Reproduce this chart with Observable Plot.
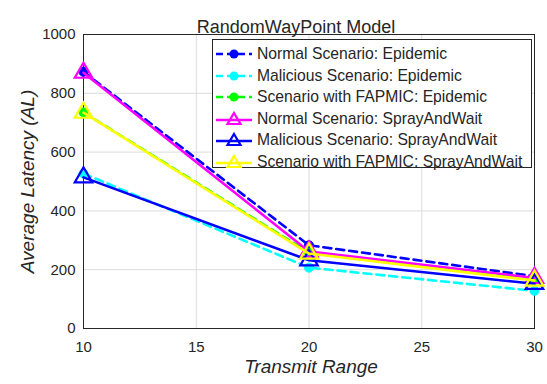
<!DOCTYPE html>
<html>
<head>
<meta charset="utf-8">
<script src="https://cdn.jsdelivr.net/npm/d3@7"></script>
<script src="https://cdn.jsdelivr.net/npm/@observablehq/plot@0.6"></script>
<style>
  html, body { margin: 0; padding: 0; background: #fff; }
  #wrap { position: relative; width: 547px; height: 384px; font-family: "Liberation Sans", Arial, sans-serif; }
  #legend { position: absolute; left: 212px; top: 39px; width: 320px; height: 129px; border: 1px solid #262626; background: #fff; box-sizing: border-box; }
  .row { position: absolute; left: 0; height: 20px; display: flex; align-items: center; font-size: 15.7px; color: #262626; white-space: nowrap; }
  .row svg { margin-left: 2px; margin-right: 4px; }
</style>
</head>
<body>
<div id="wrap"></div>
<script>
const transmitRange = [10, 20, 30];
const seriesNames = [
  "Normal Scenario: Epidemic",
  "Malicious Scenario: Epidemic",
  "Scenario with FAPMIC: Epidemic",
  "Normal Scenario: SprayAndWait",
  "Malicious Scenario: SprayAndWait",
  "Scenario with FAPMIC: SprayAndWait"
];
const normalEpidemic = [873, 283, 178];
const maliciousEpidemic = [527, 207, 128];
const fapmicEpidemic = [735, 258, 165];
const normalSpray = [870, 262, 172];
const maliciousSpray = [514, 232, 152];
const fapmicSpray = [734, 255, 163];
const seriesColors = ["#0000ff", "#00ffff", "#00ff00", "#ff00ff", "#0000ff", "#ffff00"];
const seriesDashed = [true, true, true, false, false, false];
const yTicks = [0, 200, 400, 600, 800, 1000];
const xTicks = [10, 15, 20, 25, 30];
const title = "RandomWayPoint Model";
const xLabel = "Transmit Range";
const yLabel = "Average Latency (AL)";

const allValues = [normalEpidemic, maliciousEpidemic, fapmicEpidemic, normalSpray, maliciousSpray, fapmicSpray];
const data = [];
allValues.forEach((vals, i) => vals.forEach((v, j) => data.push({series: seriesNames[i], idx: i, x: transmitRange[j], y: v})));

const marks = [
  Plot.gridX(xTicks, {stroke: "#dcdcdc", strokeOpacity: 1}),
  Plot.gridY(yTicks, {stroke: "#dcdcdc", strokeOpacity: 1}),
  Plot.axisX(xTicks, {tickSize: 0, tickPadding: 13, fontSize: 15, fill: "#262626", label: null, tickFormat: d => String(d)}),
  Plot.axisY(yTicks, {tickSize: 0, tickPadding: 8, fontSize: 15, fill: "#262626", label: null, tickFormat: d => String(d)}),
  Plot.frame({stroke: "#262626", strokeWidth: 1})
];
seriesNames.forEach((name, i) => {
  const d = data.filter(r => r.idx === i);
  marks.push(Plot.line(d, {x: "x", y: "y", stroke: seriesColors[i], strokeWidth: 2.6, strokeDasharray: seriesDashed[i] ? "8,5" : null}));
  if (seriesDashed[i]) {
    marks.push(Plot.dot(d, {x: "x", y: "y", r: 4.5, fill: seriesColors[i], stroke: seriesColors[i], strokeWidth: 1}));
  } else {
    marks.push(Plot.dot(d, {x: "x", y: "y", r: 6.5, symbol: "triangle", fill: "none", stroke: seriesColors[i], strokeWidth: 2.2}));
  }
});
marks.push(Plot.text([title], {frameAnchor: "top", dy: -14, dx: -13, fontSize: 18, fill: "#262626"}));
marks.push(Plot.text([xLabel], {frameAnchor: "bottom", dy: 44, dx: 2, fontSize: 19, fontStyle: "italic", fill: "#262626"}));
marks.push(Plot.text([yLabel], {frameAnchor: "left", textAnchor: "middle", dx: -56, rotate: -90, fontSize: 19, fontStyle: "italic", fill: "#262626"}));

const chart = Plot.plot({
  width: 547, height: 384,
  marginLeft: 83, marginRight: 13, marginTop: 34, marginBottom: 56,
  style: {fontFamily: "'Liberation Sans', Arial, sans-serif", background: "#fff", overflow: "visible"},
  x: {domain: [10, 30]},
  y: {domain: [0, 1000]},
  marks
});
const wrap = document.getElementById("wrap");
wrap.appendChild(chart);

const legend = document.createElement("div");
legend.id = "legend";
seriesNames.forEach((name, i) => {
  const row = document.createElement("div");
  row.className = "row";
  row.style.top = (4 + i * 21.5) + "px";
  const c = seriesColors[i];
  let sw;
  if (seriesDashed[i]) {
    sw = `<svg width="38" height="20"><line x1="1" y1="10" x2="37" y2="10" stroke="${c}" stroke-width="2.6" stroke-dasharray="7,4"/><circle cx="19" cy="10" r="4.5" fill="${c}"/></svg>`;
  } else {
    sw = `<svg width="38" height="20"><line x1="1" y1="11" x2="37" y2="11" stroke="${c}" stroke-width="2.6"/><path d="M19,4 L25.5,15 L12.5,15 Z" fill="none" stroke="${c}" stroke-width="2.2"/></svg>`;
  }
  row.innerHTML = sw + `<span>${name}</span>`;
  legend.appendChild(row);
});
wrap.appendChild(legend);
</script>
</body>
</html>
